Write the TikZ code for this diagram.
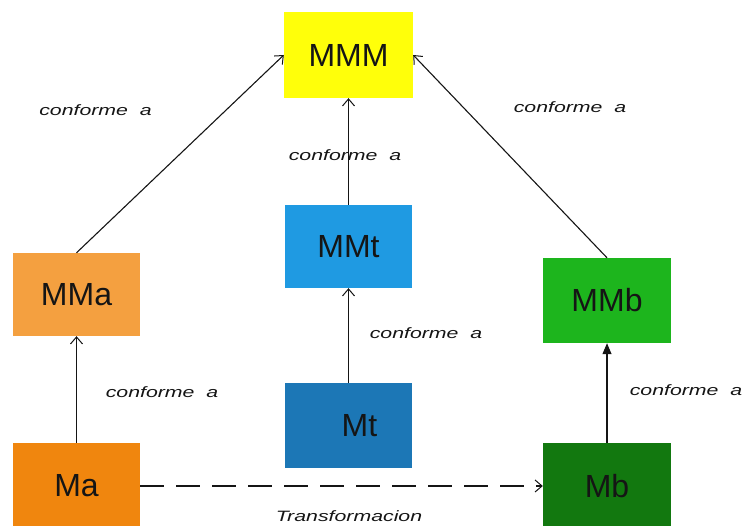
\documentclass[tikz,border=0pt]{standalone}
\usepackage{fontspec}
\setmainfont{Liberation Sans}
\usetikzlibrary{arrows.meta}

\definecolor{cMMM}{HTML}{FFFF0A}
\definecolor{cMMt}{HTML}{1F9AE2}
\definecolor{cMt}{HTML}{1C77B6}
\definecolor{cMMa}{HTML}{F4A040}
\definecolor{cMa}{HTML}{F0860E}
\definecolor{cMMb}{HTML}{1DB51D}
\definecolor{cMb}{HTML}{12780F}
\definecolor{ink}{HTML}{151515}

% stretched italic caption for the relations
\newcommand{\rellabel}[1]{\scalebox{1.42}[1]{\fontsize{15}{15}\selectfont\itshape #1}}

\begin{document}
\begin{tikzpicture}[x=1pt,y=-1pt,
  model/.style={rectangle, draw=none, inner sep=0pt, text=ink,
                font=\fontsize{32}{32}\selectfont},
  conf/.style={draw=ink, line width=1.1pt, -{Straight Barb[length=7pt,width=12pt,line width=1pt]}},
  conffill/.style={draw=ink, line width=1.1pt, -{Triangle[length=11pt,width=9pt]}},
  trans/.style={draw=ink, line width=1.1pt, dash pattern=on 24pt off 12pt,
                -{Straight Barb[length=7pt,width=12pt,line width=1pt]}},
  rel/.style={inner sep=0pt, text=ink}]

\useasboundingbox (0,0) rectangle (745,526);

% model boxes
\node[model, fill=cMMM, minimum width=129pt, minimum height=86pt] (MMM) at (348.5,55) {MMM};
\node[model, fill=cMMt, minimum width=127pt, minimum height=83pt] (MMt) at (348.5,246.5) {MMt};
\node[model, fill=cMt,  minimum width=127pt, minimum height=85pt] (Mt)  at (348.5,425.5) {\hspace{22pt}Mt};
\node[model, fill=cMMa, minimum width=127pt, minimum height=83pt] (MMa) at (76.5,294.5) {MMa};
\node[model, fill=cMa,  minimum width=127pt, minimum height=86pt] (Ma)  at (76.5,486) {Ma};
\node[model, fill=cMMb, minimum width=128pt, minimum height=85pt] (MMb) at (607,300.5) {MMb};
\node[model, fill=cMb,  minimum width=128pt, minimum height=86pt] (Mb)  at (607,486) {Mb};

% conformance relations
\draw[conf] (MMa.north) -- (MMM.west);
\draw[conf] (MMb.north) -- (MMM.east);
\draw[conf] (MMt.north) -- (MMM.south);
\draw[conf] (Mt.north) -- (MMt.south);
\draw[conf] (Ma.north) -- (MMa.south);
\draw[conffill] (Mb.north) -- (MMb.south);

% transformation
\draw[trans] (Ma.east) -- (Mb.west);

% relation labels
\node[rel] (l1) at (95.5,110) {\rellabel{conforme~~a}};
\node[rel] (l2) at (345,155) {\rellabel{conforme~~a}};
\node[rel] (l3) at (570,107) {\rellabel{conforme~~a}};
\node[rel] (l4) at (426,333) {\rellabel{conforme~~a}};
\node[rel] (l5) at (162,392) {\rellabel{conforme~~a}};
\node[rel] (l6) at (686,390) {\rellabel{conforme~~a}};
\node[rel] (l7) at (349,516) {\rellabel{Transformacion}};

\end{tikzpicture}
\end{document}
